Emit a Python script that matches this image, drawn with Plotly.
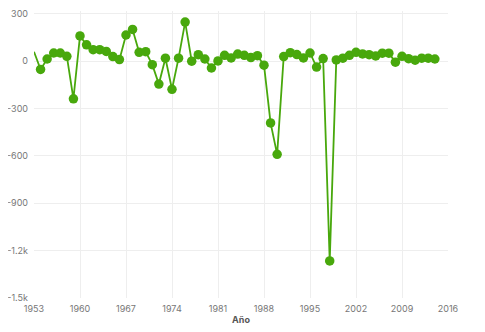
import plotly.graph_objects as go

years = list(range(1953, 2015))
values = [
    60, -52, 14, 52, 52, 31, -238, 160, 104, 73, 73, 62, 29, 10, 166, 201, 56, 60, -22, -145,
    19, -178, 19, 248, 0, 41, 14, -43, 2, 37, 21, 45, 37, 23, 35, -25, -391, -590, 29, 54,
    42, 21, 52, -37, 17, -1265, 8, 19, 37, 56, 46, 41, 33, 51, 51, -6, 31, 16, 6, 19, 19, 14,
]
x_ticks = [1953, 1960, 1967, 1974, 1981, 1988, 1995, 2002, 2009, 2016]
y_ticks = [300, 0, -300, -600, -900, -1200, -1500]
y_tick_labels = ["300", "0", "-300", "-600", "-900", "-1.2k", "-1.5k"]
x_title = "Año"

green = "#48a80c"
marker_sizes = [0] + [9.5] * (len(years) - 1)

fig = go.Figure(
    go.Scatter(
        x=years,
        y=values,
        mode="lines+markers",
        line=dict(color=green, width=1.8),
        marker=dict(color=green, size=marker_sizes, opacity=1, line=dict(width=0)),
        hoverinfo="x+y",
    )
)

# the page body has an 8px default margin, so the figure is sized to fit the window
fig.update_layout(
    width=477,
    height=324,
    margin=dict(l=26, r=37, t=3, b=34),
    paper_bgcolor="white",
    plot_bgcolor="white",
    showlegend=False,
    font=dict(family="Inter, Roboto, sans-serif", size=9, color="#777"),
)
fig.update_xaxes(
    range=[1953, 2016],
    tickvals=x_ticks,
    showgrid=True,
    gridcolor="#eeeeee",
    gridwidth=1,
    zeroline=False,
    showline=False,
    ticks="",
    automargin=False,
    ticklabelstandoff=4,
    title=dict(text="<b>" + x_title + "</b>", font=dict(size=9, color="#555"), standoff=3),
)
fig.update_yaxes(
    range=[-1500, 318],
    tickvals=y_ticks,
    ticktext=y_tick_labels,
    showgrid=True,
    gridcolor="#eeeeee",
    gridwidth=1,
    zeroline=False,
    showline=False,
    ticks="",
    automargin=False,
    ticklabelstandoff=5,
    ticklabeloverflow="allow",
)

fig.write_html("out.html")
